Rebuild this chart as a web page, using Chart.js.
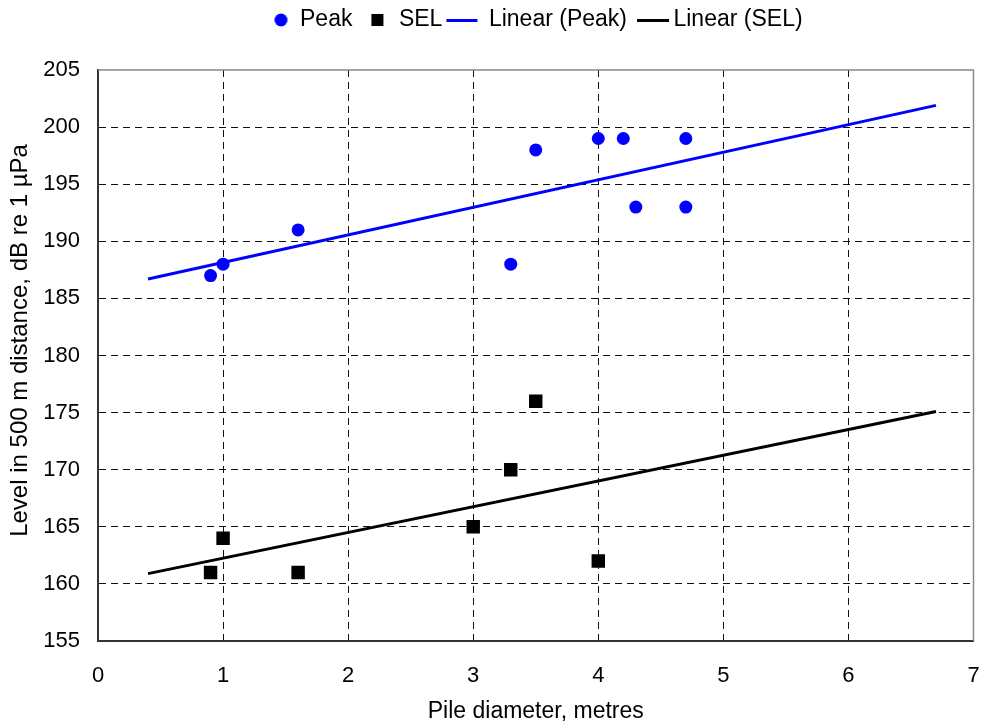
<!DOCTYPE html>
<html><head><meta charset="utf-8">
<script src="https://cdn.jsdelivr.net/npm/chart.js@4"></script>
<style>html,body{margin:0;padding:0;background:#fff;overflow:hidden;}</style>
</head><body>
<canvas id="c" width="983" height="724"></canvas>
<script>
// ---- data ----
const peakX = [0.9, 1, 1.6, 3.3, 3.5, 4, 4.2, 4.3, 4.7, 4.7];
const peakY = [187, 188, 191, 188, 198, 199, 199, 193, 199, 193];
const selX = [0.9, 1, 1.6, 3, 3.3, 3.5, 4];
const selY = [161, 164, 161, 165, 170, 176, 162];
const trendX = [0.4, 6.7];
const peakTrendY = [186.7, 201.9];
const selTrendY = [160.9, 175.1];
const seriesNames = ['Peak', 'SEL', 'Linear (Peak)', 'Linear (SEL)'];
const xTitle = 'Pile diameter, metres';
const yTitle = 'Level in 500 m distance, dB re 1 µPa';
const xMin = 0, xMax = 7, xStep = 1;
const yMin = 155, yMax = 205, yStep = 5;

const BLUE = '#0000ff';
const FONT = "'Liberation Sans', Arial, sans-serif";
Chart.defaults.font.family = FONT;
Chart.defaults.font.size = 22;
Chart.defaults.color = '#000';

function pts(xs, ys) { return xs.map((x, i) => ({x: x, y: ys[i]})); }

function mk(draw) {
  const c = document.createElement('canvas');
  c.width = 80; c.height = 16;
  draw(c.getContext('2d'));
  return c;
}
const legendIcons = [
  mk(g => { g.fillStyle = BLUE; g.beginPath(); g.arc(47.5, 8, 6.5, 0, Math.PI * 2); g.fill(); }),
  mk(g => { g.fillStyle = '#000'; g.fillRect(39, 2, 12, 12); }),
  mk(g => { g.fillStyle = BLUE; g.fillRect(24, 7, 31, 3); }),
  mk(g => { g.fillStyle = '#000'; g.fillRect(30, 7, 32, 3); })
];

const tweaks = {
  id: 'tweaks',
  beforeInit(chart) {
    const orig = chart.legend.fit;
    chart.legend.fit = function () { orig.call(this); this.height = 66.5; };
  },
  afterLayout(chart) {
    const lg = chart.legend;
    lg.left = 258.5 - 5;
    lg.right = 983;
    const y = chart.scales.y;
    if (!y._titleShifted) {
      const od = y.drawTitle;
      y.drawTitle = function () {
        this.ctx.save();
        this.ctx.translate(0, -15);
        od.apply(this, arguments);
        this.ctx.restore();
      };
      y._titleShifted = true;
    }
  }
};
const frame = {
  id: 'frame',
  beforeDatasetsDraw(chart) {
    const {ctx, chartArea: a} = chart;
    ctx.save();
    ctx.strokeStyle = '#888';
    ctx.lineWidth = 1.5;
    ctx.beginPath();
    ctx.moveTo(a.left, a.top); ctx.lineTo(a.right, a.top); ctx.lineTo(a.right, a.bottom);
    ctx.stroke();
    ctx.restore();
  }
};

new Chart(document.getElementById('c'), {
  type: 'scatter',
  data: {
    datasets: [
      {label: seriesNames[0], data: pts(peakX, peakY), pointStyle: 'circle', pointRadius: 6.5,
       backgroundColor: BLUE, borderColor: BLUE, borderWidth: 0, showLine: false},
      {label: seriesNames[1], data: pts(selX, selY), pointStyle: 'rect', pointRadius: 9.5,
       backgroundColor: '#000', borderColor: '#000', borderWidth: 0, showLine: false},
      {label: seriesNames[2], data: pts(trendX, peakTrendY), showLine: true, borderColor: BLUE,
       borderWidth: 3, pointRadius: 0, fill: false},
      {label: seriesNames[3], data: pts(trendX, selTrendY), showLine: true, borderColor: '#000',
       borderWidth: 3, pointRadius: 0, fill: false}
    ]
  },
  options: {
    responsive: false,
    animation: false,
    events: [],
    layout: {padding: {top: 3.5, left: 0, right: 5, bottom: 0}},
    plugins: {
      tooltip: {enabled: false},
      legend: {
        position: 'top',
        align: 'start',
        labels: {
          usePointStyle: true,
          pointStyleWidth: 30,
          padding: 5,
          font: {size: 23},
          color: '#000',
          generateLabels(chart) {
            return chart.data.datasets.map((ds, i) => ({
              text: ds.label, pointStyle: legendIcons[i], fillStyle: 'rgba(0,0,0,0)',
              strokeStyle: 'rgba(0,0,0,0)', lineWidth: 0, hidden: false, datasetIndex: i, fontColor: '#000'
            }));
          }
        }
      }
    },
    scales: {
      x: {
        type: 'linear', min: xMin, max: xMax,
        ticks: {stepSize: xStep, padding: 22, font: {size: 22}, color: '#000'},
        grid: {
          drawTicks: false, lineWidth: 1,
          color: c => (c.tick && (c.tick.value === xMin || c.tick.value === xMax)) ? 'rgba(0,0,0,0)' : '#111'
        },
        border: {display: true, color: '#333', width: 2, dash: [7, 5]},
        title: {display: true, text: xTitle, font: {size: 23}, color: '#000', padding: {top: 0, bottom: -1}},
        afterFit(s) { s.height = 83; s.paddingLeft = 0; s.paddingRight = 0; }
      },
      y: {
        type: 'linear', min: yMin, max: yMax,
        ticks: {stepSize: yStep, padding: 18, font: {size: 22}, color: '#000'},
        grid: {
          drawTicks: false, lineWidth: 1,
          color: c => (c.tick && (c.tick.value === yMin || c.tick.value === yMax)) ? 'rgba(0,0,0,0)' : '#111'
        },
        border: {display: true, color: '#333', width: 2, dash: [7, 5]},
        title: {display: true, text: yTitle, font: {size: 24}, color: '#000', padding: {top: 6, bottom: 0}},
        afterFit(s) { s.width = 98; s.paddingTop = 0; s.paddingBottom = 0; }
      }
    }
  },
  plugins: [tweaks, frame]
});
</script>
</body></html>
